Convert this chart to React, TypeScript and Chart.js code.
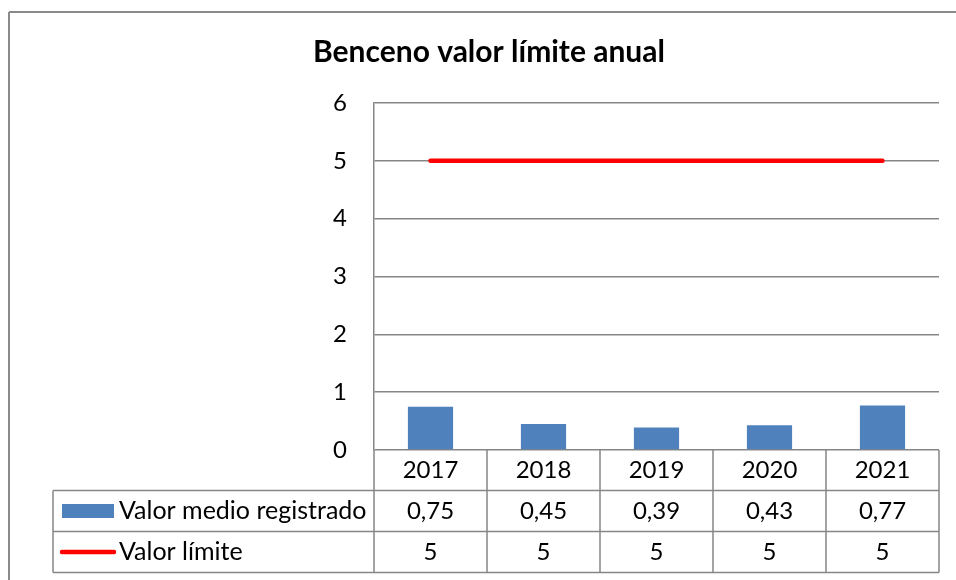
import React, { useEffect, useRef } from 'react';
import { Chart, registerables } from 'chart.js';

Chart.register(...registerables);

const titleText = 'Benceno valor límite anual';
const categories = ['2017', '2018', '2019', '2020', '2021'];
const seriesNames = ['Valor medio registrado', 'Valor límite'];
const valorMedio = [0.75, 0.45, 0.39, 0.43, 0.77];
const valorLimite = [5, 5, 5, 5, 5];
const yMin = 0;
const yMax = 6;
const yStep = 1;

const FONT = 'Lato, "Open Sans", sans-serif';
const GRID = '#868686';
const BLUE = '#4F81BD';
const RED = '#FF0000';

const fmt = (v: number) => String(v).replace('.', ',');

const tablePlugin = {
  id: 'dataTable',
  afterDraw(chart: any) {
    const { ctx, chartArea: a, scales } = chart;
    const x = scales.x;
    const step = x.getPixelForValue(1) - x.getPixelForValue(0);
    const top = a.bottom;
    const r1 = top + 40.5;
    const r2 = r1 + 41;
    const r3 = r2 + 41;
    const legLeft = 53;
    const line = (x1: number, y1: number, x2: number, y2: number) => {
      ctx.beginPath();
      ctx.moveTo(x1, y1);
      ctx.lineTo(x2, y2);
      ctx.stroke();
    };
    ctx.save();
    ctx.strokeStyle = GRID;
    ctx.lineWidth = 1.5;
    line(legLeft, r1, a.right, r1);
    line(legLeft, r2, a.right, r2);
    line(legLeft, r3, a.right, r3);
    line(legLeft, r1, legLeft, r3);
    line(a.left, top, a.left, r3);
    categories.forEach((_, i) => {
      const bx = x.getPixelForValue(i) + step / 2;
      line(bx, top, bx, r3);
    });

    ctx.fillStyle = '#000';
    ctx.font = `24px ${FONT}`;
    ctx.textAlign = 'center';
    ctx.textBaseline = 'middle';
    const m0 = (top + r1) / 2;
    const m1 = (r1 + r2) / 2;
    const m2 = (r2 + r3) / 2;
    categories.forEach((c, i) => ctx.fillText(c, x.getPixelForValue(i), m0));
    valorMedio.forEach((v, i) => ctx.fillText(fmt(v), x.getPixelForValue(i), m1));
    valorLimite.forEach((v, i) => ctx.fillText(fmt(v), x.getPixelForValue(i), m2));

    // legend keys
    ctx.fillStyle = BLUE;
    ctx.fillRect(62, m1 - 7, 52, 14);
    ctx.strokeStyle = RED;
    ctx.lineWidth = 4.5;
    ctx.lineCap = 'round';
    line(62, m2, 114, m2);
    ctx.fillStyle = '#000';
    ctx.textAlign = 'left';
    ctx.font = `25px ${FONT}`;
    ctx.fillText(seriesNames[0], 119, m1);
    ctx.fillText(seriesNames[1], 119, m2);

    // title
    ctx.font = `bold 30px ${FONT}`;
    ctx.textAlign = 'center';
    ctx.fillText(titleText, 489, 52);

    // outer border
    ctx.lineCap = 'butt';
    ctx.strokeStyle = '#8a8a8a';
    ctx.lineWidth = 2;
    line(9, 12, 9, 600);
    line(9, 12, 1000, 12);
    ctx.restore();
  },
};

export default function App() {
  const ref = useRef<HTMLCanvasElement>(null);
  useEffect(() => {
    const chart = new Chart(ref.current as HTMLCanvasElement, {
      type: 'bar',
      data: {
        labels: categories,
        datasets: [
          {
            type: 'bar',
            label: seriesNames[0],
            data: valorMedio,
            backgroundColor: BLUE,
            borderWidth: 0,
            barPercentage: 0.5,
            categoryPercentage: 0.8,
          },
          {
            type: 'line',
            label: seriesNames[1],
            data: valorLimite,
            borderColor: RED,
            borderWidth: 4.5,
            borderCapStyle: 'round',
            pointRadius: 0,
            fill: false,
          },
        ] as any,
      },
      options: {
        animation: false,
        responsive: false,
        layout: { padding: { left: 314, right: 17, top: 103, bottom: 130 } },
        plugins: { legend: { display: false }, title: { display: false }, tooltip: { enabled: false } },
        scales: {
          x: { display: false, offset: true },
          y: {
            min: yMin,
            max: yMax,
            ticks: { stepSize: yStep, padding: 27, color: '#000', font: { family: FONT, size: 24 } },
            grid: { color: GRID, lineWidth: 1.5, drawTicks: false },
            border: { display: true, color: GRID, width: 1.5 },
            afterFit: (s: any) => { s.width = 60; },
          },
        },
      } as any,
      plugins: [tablePlugin],
    });
    return () => chart.destroy();
  }, []);
  return (
    <div style={{ position: 'fixed', left: 0, top: 0, width: 956, height: 580, background: '#fff' }}>
      <canvas ref={ref} width={956} height={580} />
    </div>
  );
}
